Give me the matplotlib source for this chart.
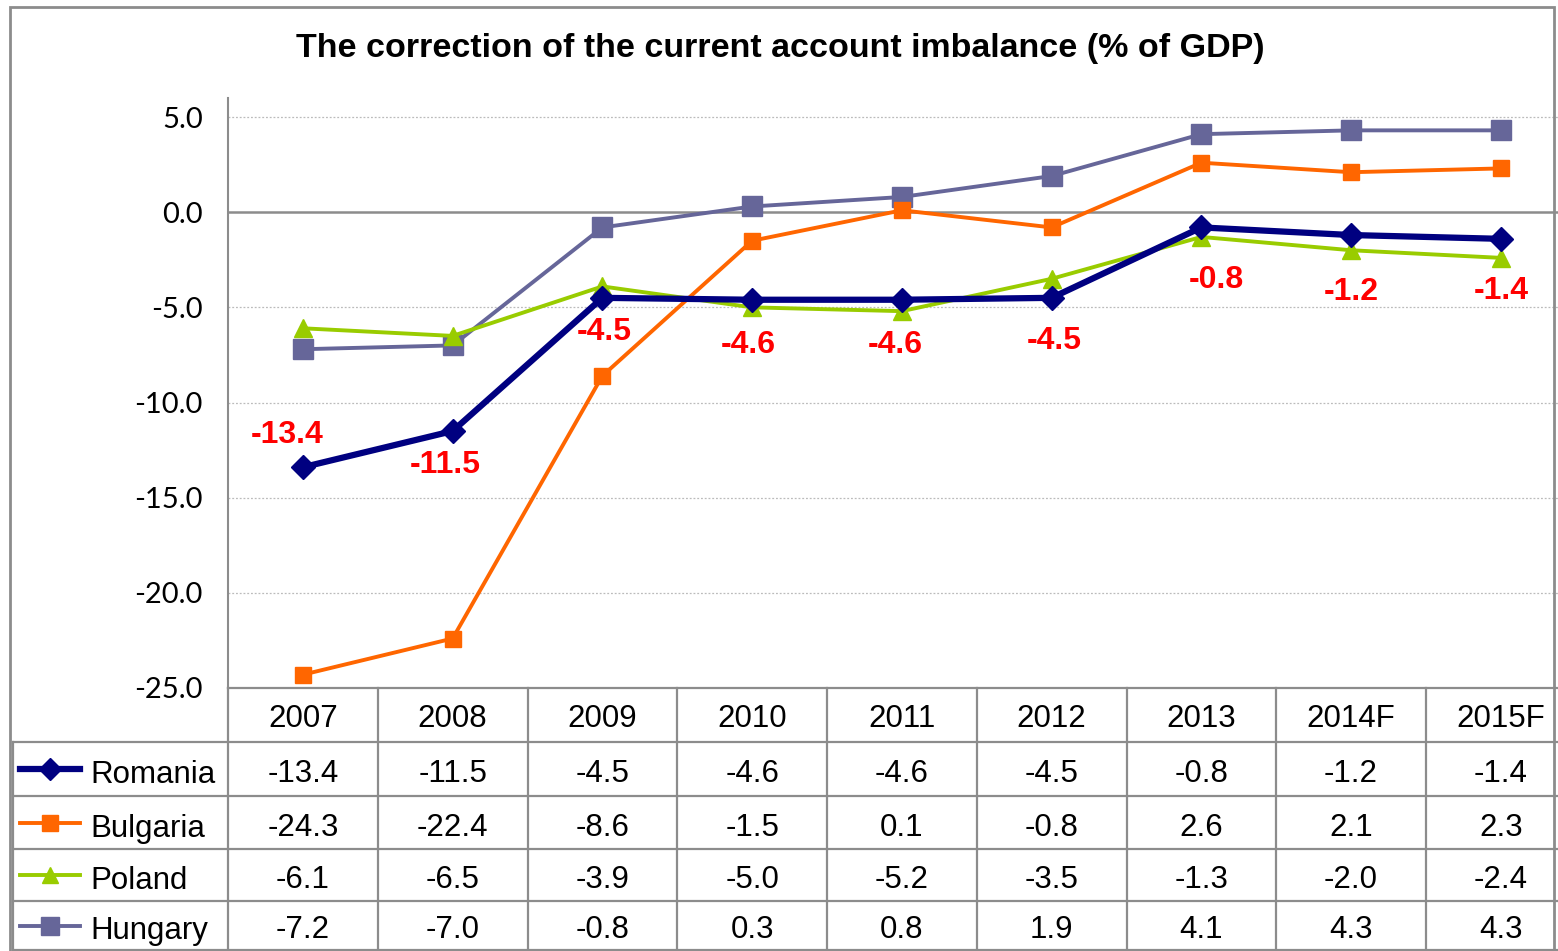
import matplotlib
matplotlib.use("Agg")
import matplotlib.pyplot as plt
from matplotlib.patches import Rectangle

# data
years = ["2007", "2008", "2009", "2010", "2011", "2012", "2013", "2014F", "2015F"]
romania = [-13.4, -11.5, -4.5, -4.6, -4.6, -4.5, -0.8, -1.2, -1.4]
bulgaria = [-24.3, -22.4, -8.6, -1.5, 0.1, -0.8, 2.6, 2.1, 2.3]
poland = [-6.1, -6.5, -3.9, -5.0, -5.2, -3.5, -1.3, -2.0, -2.4]
hungary = [-7.2, -7.0, -0.8, 0.3, 0.8, 1.9, 4.1, 4.3, 4.3]
countries = ["Romania", "Bulgaria", "Poland", "Hungary"]
yticks = [5, 0, -5, -10, -15, -20, -25]

# styles
series = [
    (romania, "#000080", "D", 4.5, 12),
    (bulgaria, "#FF6600", "s", 2.8, 12),
    (poland, "#99CC00", "^", 2.8, 13),
    (hungary, "#666699", "s", 2.8, 14.5),
]
label_offsets = [(-16, 32), (-7, -34), (2, -34), (-4, -45), (-7, -45),
                 (3, -43), (15, -53), (0, -57), (0, -52)]

W, H = 1558, 951
fig = plt.figure(figsize=(W / 100, H / 100), dpi=100)
fig.patch.set_facecolor("white")

colw = 149.75
x0, x1 = 228, 228 + colw * 9
ytop, ybot = 98, 688
ax = fig.add_axes([x0 / W, 1 - ybot / H, (x1 - x0) / W, (ybot - ytop) / H])
ax.set_xlim(-0.5, 8.5)
ax.set_ylim(-25, 6)
ax.set_yticks(yticks)
ax.set_yticklabels([f"{v:.1f}" for v in yticks], family="Lato", fontsize=21)
ax.tick_params(axis="y", length=0, pad=18)
ax.set_xticks([])
for s in ["top", "right", "bottom"]:
    ax.spines[s].set_visible(False)
ax.spines["left"].set_color("#8C8C8C")
ax.spines["left"].set_linewidth(1.5)
for v in yticks:
    if v == 0:
        ax.axhline(v, color="#8C8C8C", lw=1.8, zorder=1)
    elif v != -25:
        ax.axhline(v, color="#BBBBBB", lw=0.9, ls=(0, (1.5, 1.5)), zorder=1)

xs = range(len(years))
for vals, c, m, lw, ms in series[::-1]:
    ax.plot(xs, vals, color=c, lw=lw, marker=m, ms=ms, zorder=3)

for i, v in enumerate(romania):
    dx, dy = label_offsets[i]
    ax.annotate(f"{v:.1f}", (i, v), xytext=(dx, dy), textcoords="offset pixels",
                ha="center", va="center", color="#FF0000", fontsize=23,
                fontweight="bold", family=["Liberation Sans Narrow", "Liberation Sans"],
                zorder=4)

fig.text(780 / W, 1 - 48 / H, "The correction of the current account imbalance (% of GDP)",
         ha="center", va="center", fontsize=24.5, fontweight="bold", family="Liberation Sans")

# data table
tl = 13
rows = [0, 54, 108, 161, 213, 262]
tab = fig.add_axes([tl / W, 1 - 950 / H, (x1 - tl) / W, (950 - 688) / H])
xl = -0.5 - (x0 - tl) / colw
tab.set_xlim(xl, 8.5)
tab.set_ylim(rows[-1], 0)
tab.axis("off")
gc, glw = "#8C8C8C", 1.6
for k in range(10):
    tab.plot([k - 0.5, k - 0.5], [0, rows[-1]], color=gc, lw=glw, clip_on=False)
tab.plot([xl, xl], [rows[1], rows[-1]], color=gc, lw=glw, clip_on=False)
tab.plot([-0.5, 8.5], [0, 0], color=gc, lw=glw, clip_on=False)
for r in rows[1:]:
    tab.plot([xl, 8.5], [r, r], color=gc, lw=glw, clip_on=False)

tf = dict(family="Liberation Sans", fontsize=22.5, va="center", ha="center")
for i, y in enumerate(years):
    tab.text(i, (rows[0] + rows[1]) / 2 + 4, y, **tf)
px = 1 / colw
for j, (vals, c, m, lw, ms) in enumerate(series):
    yc = (rows[j + 1] + rows[j + 2]) / 2
    tab.plot([xl + 7 * px, xl + 67 * px], [yc, yc], color=c, lw=lw)
    tab.plot([xl + 37 * px], [yc], color=c, marker=m, ms=ms - 1)
    tab.text(xl + 77 * px, yc + 6, countries[j], **{**tf, "ha": "left"})
    for i, v in enumerate(vals):
        tab.text(i, yc + 5, f"{v:.1f}", **tf)

# outer chart border
fig.patches.append(Rectangle((10 / W, -0.05), (1554 - 10) / W, 1 - 7 / H + 0.05,
                             transform=fig.transFigure, fill=False,
                             edgecolor="#8C8C8C", lw=2))

fig.savefig("out.png", dpi=100)
